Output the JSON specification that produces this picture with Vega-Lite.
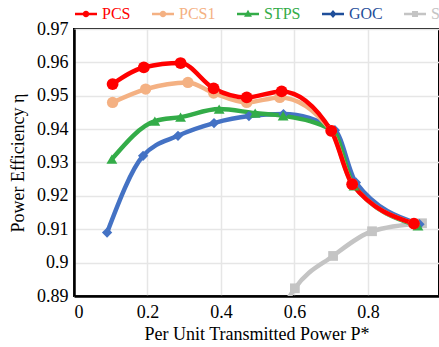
{
  "$schema": "https://vega.github.io/schema/vega-lite/v6.json",
  "width": 365,
  "height": 267,
  "autosize": "none",
  "padding": {"left": 74, "top": 29, "right": 0, "bottom": 51},
  "background": "white",
  "config": {
    "font": "Liberation Serif",
    "view": {"stroke": "#000", "strokeWidth": 2},
    "axis": {
      "labelFont": "Liberation Serif",
      "titleFont": "Liberation Serif",
      "labelFontSize": 18,
      "titleFontSize": 18,
      "labelColor": "#000",
      "titleColor": "#000",
      "titleFontWeight": "normal",
      "gridColor": "#e6e6e6",
      "gridWidth": 1.5,
      "ticks": false,
      "domainColor": "#000",
      "domainWidth": 2.5
    },
    "legend": {
      "labelFont": "Liberation Serif"
    }
  },
  "data": {
    "values": [
      {"series": "SPS", "x": 0.5, "y": 0.87},
      {"series": "SPS", "x": 0.601, "y": 0.8923},
      {"series": "SPS", "x": 0.705, "y": 0.902},
      {"series": "SPS", "x": 0.811, "y": 0.9094},
      {"series": "SPS", "x": 0.947, "y": 0.9118},
      {"series": "GOC", "x": 0.09, "y": 0.909},
      {"series": "GOC", "x": 0.188, "y": 0.932},
      {"series": "GOC", "x": 0.283, "y": 0.938},
      {"series": "GOC", "x": 0.381, "y": 0.9418},
      {"series": "GOC", "x": 0.476, "y": 0.9439},
      {"series": "GOC", "x": 0.57, "y": 0.9445},
      {"series": "GOC", "x": 0.71, "y": 0.9397},
      {"series": "GOC", "x": 0.767, "y": 0.924},
      {"series": "GOC", "x": 0.94, "y": 0.9115},
      {"series": "STPS", "x": 0.103, "y": 0.931},
      {"series": "STPS", "x": 0.22, "y": 0.9424},
      {"series": "STPS", "x": 0.29, "y": 0.9436},
      {"series": "STPS", "x": 0.395, "y": 0.946},
      {"series": "STPS", "x": 0.493, "y": 0.9448},
      {"series": "STPS", "x": 0.569, "y": 0.944},
      {"series": "STPS", "x": 0.705, "y": 0.9395},
      {"series": "STPS", "x": 0.762, "y": 0.923},
      {"series": "STPS", "x": 0.936, "y": 0.911},
      {"series": "PCS1", "x": 0.105, "y": 0.948},
      {"series": "PCS1", "x": 0.195, "y": 0.952},
      {"series": "PCS1", "x": 0.31, "y": 0.954},
      {"series": "PCS1", "x": 0.38, "y": 0.9508},
      {"series": "PCS1", "x": 0.47, "y": 0.948},
      {"series": "PCS1", "x": 0.56, "y": 0.9495},
      {"series": "PCS1", "x": 0.7, "y": 0.9395},
      {"series": "PCS1", "x": 0.757, "y": 0.9235},
      {"series": "PCS1", "x": 0.925, "y": 0.9117},
      {"series": "PCS", "x": 0.105, "y": 0.9535},
      {"series": "PCS", "x": 0.19, "y": 0.9585},
      {"series": "PCS", "x": 0.29, "y": 0.9598},
      {"series": "PCS", "x": 0.38, "y": 0.9522},
      {"series": "PCS", "x": 0.47, "y": 0.9495},
      {"series": "PCS", "x": 0.565, "y": 0.9513},
      {"series": "PCS", "x": 0.7, "y": 0.9395},
      {"series": "PCS", "x": 0.757, "y": 0.9235},
      {"series": "PCS", "x": 0.925, "y": 0.9117}
    ]
  },
  "encoding": {
    "x": {
      "field": "x",
      "type": "quantitative",
      "scale": {"domain": [0, 0.9932], "nice": false, "zero": false},
      "axis": {
        "values": [0, 0.2, 0.4, 0.6, 0.8],
        "format": ".1~f",
        "labelPadding": 7,
        "title": "Per Unit Transmitted Power P*",
        "titlePadding": 4
      }
    },
    "y": {
      "field": "y",
      "type": "quantitative",
      "scale": {"domain": [0.89, 0.97], "nice": false, "zero": false},
      "axis": {
        "values": [0.89, 0.9, 0.91, 0.92, 0.93, 0.94, 0.95, 0.96, 0.97],
        "format": ".2~f",
        "labelPadding": 6,
        "title": "Power Efficiency η",
        "titlePadding": 9
      }
    },
    "color": {
      "field": "series",
      "type": "nominal",
      "scale": {
        "domain": ["PCS", "PCS1", "STPS", "GOC", "SPS"],
        "range": ["#ff0000", "#f4b183", "#33ac48", "#4472c4", "#c4c4c4"]
      },
      "legend": null
    }
  },
  "layer": [
    {
      "mark": {"type": "line", "interpolate": "monotone", "clip": true, "strokeWidth": 4.5},
      "encoding": {}
    },
    {
      "mark": {"type": "point", "filled": true, "opacity": 1, "clip": true},
      "encoding": {
        "shape": {
          "field": "series",
          "type": "nominal",
          "scale": {
            "domain": ["PCS", "PCS1", "STPS", "GOC", "SPS"],
            "range": ["circle", "circle", "triangle-up", "diamond", "square"]
          },
          "legend": null
        },
        "size": {
          "field": "series",
          "type": "ordinal",
          "scale": {
            "domain": ["PCS", "PCS1", "STPS", "GOC", "SPS"],
            "range": [140, 95, 140, 110, 95]
          },
          "legend": null
        }
      }
    },
    {
      "transform": [{"filter": "false"}],
      "mark": {"type": "point", "filled": true, "opacity": 1},
      "encoding": {
        "shape": {
          "field": "series",
          "type": "nominal",
          "scale": {
            "domain": ["PCS", "PCS1", "STPS", "GOC", "SPS"],
            "range": [
              "M-1,-0.11H1V0.11H-1Z M-0.3,0A0.3,0.3 0 1,1 0.3,0A0.3,0.3 0 1,1 -0.3,0Z",
              "M-1,-0.11H1V0.11H-1Z M-0.3,0A0.3,0.3 0 1,1 0.3,0A0.3,0.3 0 1,1 -0.3,0Z",
              "M-1,-0.11H1V0.11H-1Z M0,-0.38L0.36,0.26H-0.36Z",
              "M-1,-0.11H1V0.11H-1Z M0,-0.36L0.32,0L0,0.36L-0.32,0Z",
              "M-1,-0.11H1V0.11H-1Z M-0.27,-0.27H0.27V0.27H-0.27Z"
            ]
          },
          "legend": {
            "orient": "none",
            "legendX": 1,
            "legendY": -26,
            "direction": "horizontal",
            "title": null,
            "padding": 0,
            "symbolSize": 484,
            "symbolStrokeWidth": 0,
            "symbolOpacity": 1,
            "symbolFillColor": {"expr": "datum.value === 'PCS' ? '#ff0000' : datum.value === 'PCS1' ? '#f4b183' : datum.value === 'STPS' ? '#33ac48' : datum.value === 'GOC' ? '#1f4e9a' : '#c4c4c4'"},
            "labelColor": {"expr": "datum.value === 'PCS' ? '#ff0000' : datum.value === 'PCS1' ? '#f4b183' : datum.value === 'STPS' ? '#33ac48' : datum.value === 'GOC' ? '#1f4e9a' : '#c4c4c4'"},
            "labelFont": "Liberation Serif",
            "labelFontSize": 16,
            "labelOffset": 5,
            "columnPadding": 21
          }
        }
      }
    }
  ],
  "resolve": {"scale": {"shape": "independent", "size": "independent"}}
}
